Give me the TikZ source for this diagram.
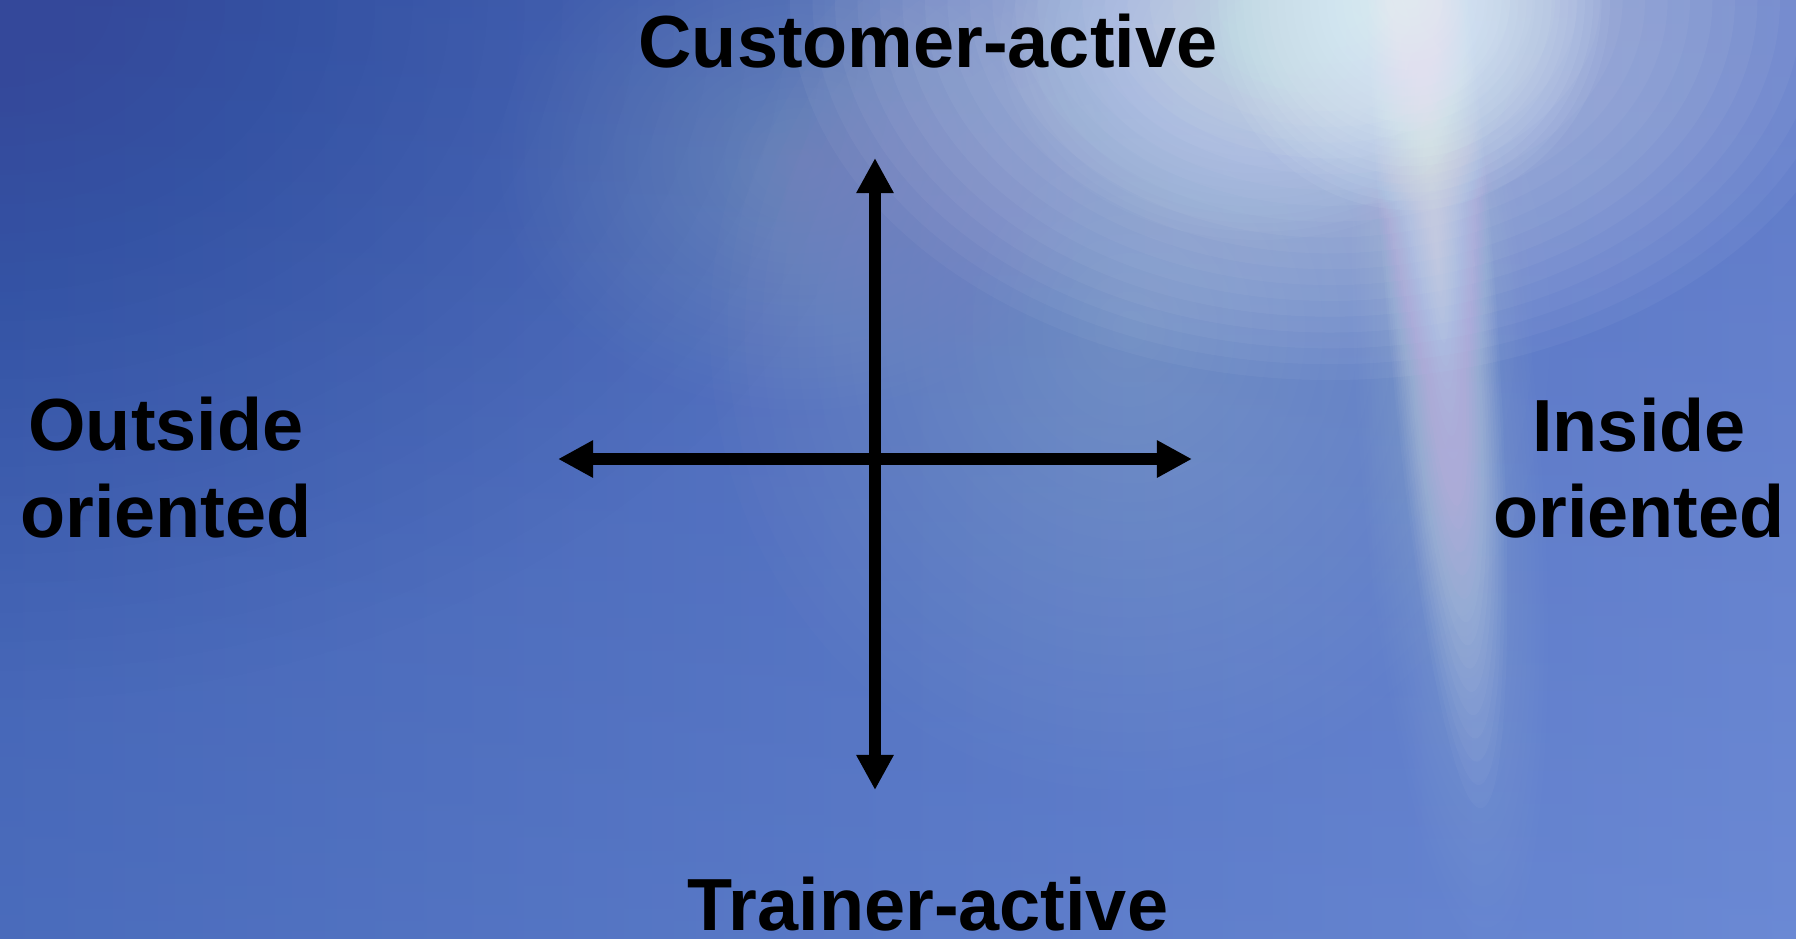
\documentclass[tikz,border=0pt]{standalone}
\usepackage{fontspec}
\setmainfont{Liberation Sans}
\usetikzlibrary{arrows.meta}
\definecolor{bgL}{HTML}{4262B4}
\definecolor{bgM}{HTML}{5A7ECC}
\definecolor{bgR}{HTML}{6A86D2}
\definecolor{bgDark}{HTML}{34489A}
\definecolor{bgLight}{HTML}{7098E0}
\definecolor{flare}{HTML}{EAFAFF}
\definecolor{haze}{HTML}{D8F0FF}
% soft glow: colour, cx, cy, rx, ry, layer opacity, angle
\newcommand\skyglow[7]{%
  \foreach \k in {1,...,24}{%
    \fill[#1, fill opacity=#6, rotate around={#7:(#2,#3)}]
      (#2,#3) ellipse ({#4/24*\k} and {#5/24*\k});}}
\begin{document}
\begin{tikzpicture}[x=0.01cm,y=-0.01cm,
  lbl/.style={font=\fontsize{21}{21}\selectfont\bfseries, inner sep=0pt,
    text depth=0pt, anchor=base, text=black},
  axisarrow/.style={line width=1.2mm, draw=black,
    {Triangle[length=3.5mm,width=3.5mm]}-{Triangle[length=3.5mm,width=3.5mm]}}]
\useasboundingbox (0,0) rectangle (1796,938);
\begin{scope}
\clip (0,0) rectangle (1796,938);
\shade[left color=bgL, middle color=bgM, right color=bgR] (0,0) rectangle (1796,938);
\shade[top color=bgDark, bottom color=bgLight, fill opacity=0.18] (0,0) rectangle (1796,938);
\skyglow{bgDark}{0}{0}{900}{700}{0.008}{0}
\skyglow{white}{1130}{330}{420}{460}{0.012}{0}
\skyglow{white}{800}{160}{300}{250}{0.008}{0}
\skyglow{white}{1330}{0}{540}{380}{0.04}{0}
\skyglow{haze}{1260}{40}{260}{200}{0.03}{0}
\skyglow{flare}{1410}{0}{200}{210}{0.06}{0}
\skyglow{white}{1437}{250}{55}{560}{0.03}{4.5}
\skyglow{white}{1450}{450}{90}{500}{0.012}{4.5}
\end{scope}
\coordinate (top) at (875,158);
\coordinate (bot) at (875,790);
\coordinate (lft) at (558,459);
\coordinate (rgt) at (1192,459);
\draw[axisarrow] (bot) -- (top);
\draw[axisarrow] (lft) -- (rgt);
\node[lbl] (cust) at (928,67) {Customer-active};
\node[lbl] (train) at (928,930) {Trainer-active};
\node[lbl] (out1) at (166,450) {Outside};
\node[lbl] (out2) at (166,537) {oriented};
\node[lbl] (in1) at (1639,451) {Inside};
\node[lbl] (in2) at (1639,537) {oriented};
\end{tikzpicture}
\end{document}
